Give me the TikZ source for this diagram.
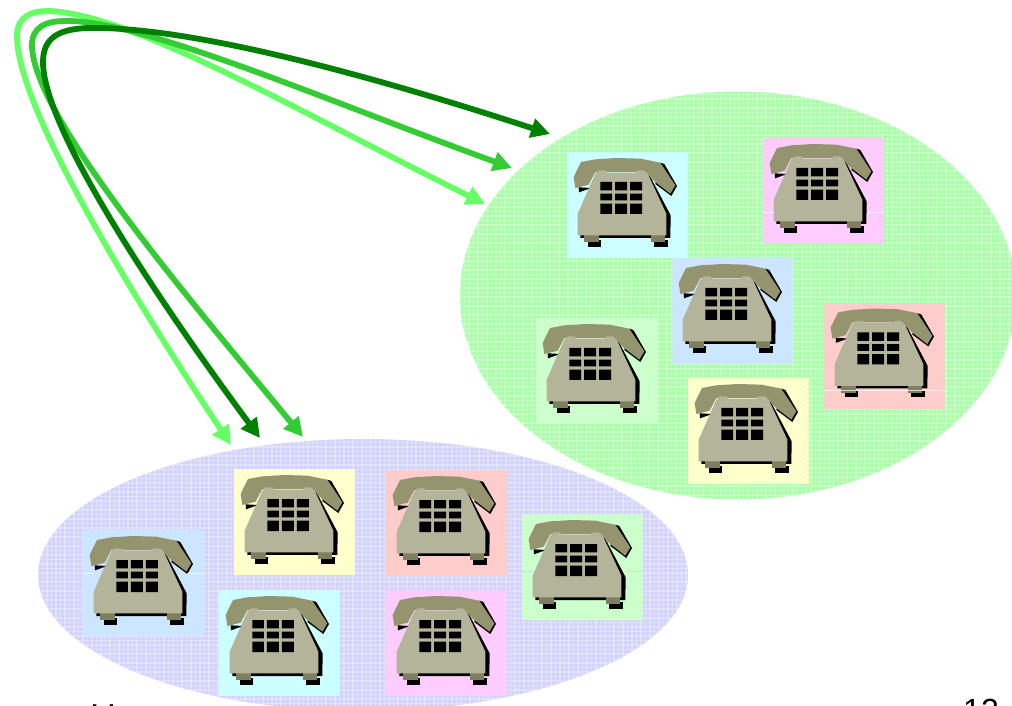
\documentclass[tikz,border=0pt]{standalone}
\usepackage{fontspec}
\setmainfont{Liberation Sans}
\usetikzlibrary{arrows.meta}
\definecolor{phbody}{HTML}{B4B49B}
\definecolor{phhand}{HTML}{94946E}
\definecolor{phfoot}{HTML}{7F7F5F}
\definecolor{arlight}{HTML}{66FF66}
\definecolor{armid}{HTML}{33CC33}
\definecolor{ardark}{HTML}{008000}
\definecolor{tcyan}{HTML}{CCFFFF}
\definecolor{tpink}{HTML}{FFCCFF}
\definecolor{tblue}{HTML}{CCE6FF}
\definecolor{tgreen}{HTML}{CCFFCC}
\definecolor{tred}{HTML}{FFCCCC}
\definecolor{tyellow}{HTML}{FFFFCC}
\definecolor{elgreen}{HTML}{A8FFA8}
\definecolor{elblue}{HTML}{D2D2FD}
\tikzset{
  x=1pt,y=-1pt,
  backlink/.style={line width=5.8pt,{Triangle[length=19pt,width=19pt]}-{Triangle[length=19pt,width=19pt]}},
  seam/.style={line width=.7pt,opacity=.7},
  pics/phone/.style={code={
    \fill[#1] (0,0) rectangle (121,106);
    \begin{scope}[shift={(-6.67,-6.67)},scale=1/3]
      % shadows
      \fill[black] (55,126) -- (56,141) -- (92,128) -- cycle;
      \fill[black] (300,52) -- (312,56) -- (350,122) -- (333,152) -- (285,116) -- cycle;
      \fill[black] (115,85) -- (265,85) -- (331,210) -- (330,278) -- (60,278) -- (60,210) -- cycle;
      \fill[black] (82,285) rectangle (122,304);
      \fill[black] (282,285) rectangle (324,304);
      % feet
      \fill[phfoot] (72,270) rectangle (115,291);
      \fill[phfoot] (273,270) rectangle (315,291);
      % handset
      \fill[phhand] (40,95) -- (62,50) -- (105,42) -- (170,38) -- (240,40) -- (300,52) -- (345,120) -- (330,145) -- (282,108) -- (255,80) -- (105,80) -- (85,118) -- (45,128) -- cycle;
      % body
      \fill[phbody] (105,85) -- (115,75) -- (135,75) -- (140,82) -- (225,82) -- (232,75) -- (250,75) -- (262,85) -- (318,205) -- (318,270) -- (52,270) -- (52,205) -- cycle;
      % keys
      \fill[black] (120,110) rectangle (155,135) (164,110) rectangle (200,135) (209,110) rectangle (245,135);
      \fill[black] (120,145) rectangle (155,165) (164,145) rectangle (200,165) (209,145) rectangle (245,165);
      \fill[black] (120,175) rectangle (155,206) (164,175) rectangle (200,206) (209,175) rectangle (245,206);
    \end{scope}
  }}
}
\begin{document}
\begin{tikzpicture}
\useasboundingbox (0,0) rectangle (1012,706);
% right group
\begin{scope}
  \clip (738,295.5) ellipse [x radius=278,y radius=204];
  \fill[elgreen] (460,90) rectangle (1016,500);
  \foreach \k in {0,...,124} \draw[white,opacity=.28,line width=1.1pt] (460+\k*4.5,90) -- (460+\k*4.5,500);
  \foreach \k in {0,...,92} \draw[white,opacity=.28,line width=1.1pt] (460,90+\k*4.5) -- (1016,90+\k*4.5);
\end{scope}
% left group
\begin{scope}
  \clip (363,575) ellipse [x radius=325,y radius=136];
  \fill[elblue] (38,438) rectangle (688,712);
  \foreach \k in {0,...,145} \draw[white,opacity=.28,line width=1.1pt] (38+\k*4.5,438) -- (38+\k*4.5,712);
  \foreach \k in {0,...,61} \draw[white,opacity=.28,line width=1.1pt] (38,438+\k*4.5) -- (688,438+\k*4.5);
\end{scope}
% phones
\pic (pa) at (567,152) {phone=tcyan};
\pic (pb) at (763,138) {phone=tpink};
\pic (pc) at (672,258) {phone=tblue};
\pic (pd) at (536,318) {phone=tgreen};
\pic (pe) at (824,302.5) {phone=tred};
\pic (pf) at (688,378) {phone=tyellow};
\pic (pg) at (234,469) {phone=tyellow};
\pic (ph) at (386,470) {phone=tred};
\pic (pi) at (522,514) {phone=tgreen};
\pic (pj) at (83,530) {phone=tblue};
\pic (pk) at (219,590) {phone=tcyan};
\pic (pl) at (386,590) {phone=tpink};
% faint seams across some tiles
\draw[seam,tgreen] (567,210) -- (578,210) (671,210) -- (688,210);
\draw[seam,white] (763,212) -- (774,212) (867,212) -- (884,212);
\draw[seam,white] (824,390) -- (945,390);
\draw[seam,elblue] (522,571) -- (533,571) (626,571) -- (643,571);
\draw[seam,white] (83,573) -- (94,573) (187,573) -- (204,573);
% connector ends
\coordinate (la) at (231,445);
\coordinate (lb) at (485,204);
\coordinate (ma) at (303,437);
\coordinate (mb) at (512,168);
\coordinate (da) at (260,438);
\coordinate (db) at (550,134);
% connectors
\draw[backlink,arlight] (la) .. controls (125,285) and (17,105) .. (17,36) .. controls (17,16) and (32,11) .. (48,11) .. controls (130,13) and (300,112) .. (lb);
\draw[backlink,armid] (ma) .. controls (190,300) and (32,115) .. (32,45) .. controls (32,27) and (46,21) .. (65,21) .. controls (140,19) and (330,102) .. (mb);
\draw[backlink,ardark] (da) .. controls (165,310) and (43,130) .. (43,62) .. controls (43,37) and (60,29) .. (88,28) .. controls (200,26) and (400,85) .. (db);
% texts cut by the lower edge, as in the reference
\node[name=title,anchor=base,font=\fontsize{36pt}{36pt}\selectfont,inner sep=0pt] at (103,729) {H};
\node[name=pagenum,anchor=base,font=\fontsize{32pt}{32pt}\selectfont,inner sep=0pt] at (981,721) {12};
\end{tikzpicture}
\end{document}
